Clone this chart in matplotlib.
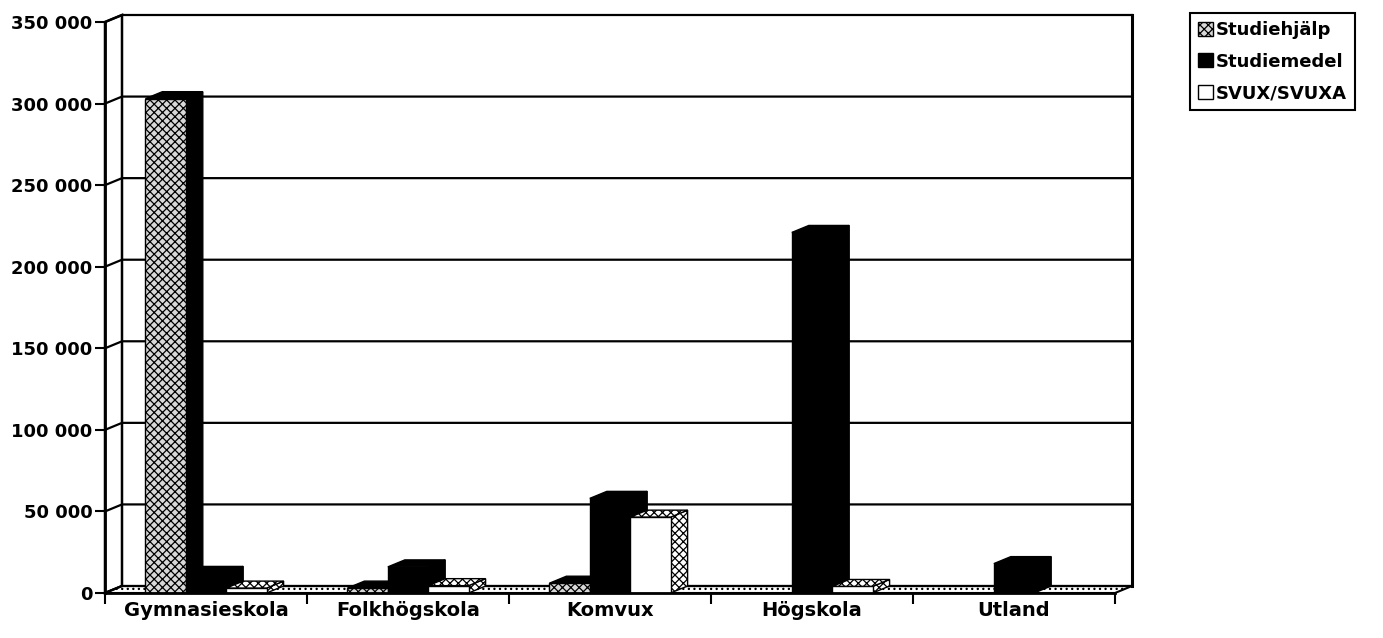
import matplotlib
matplotlib.use("Agg")
import matplotlib.pyplot as plt
from matplotlib.patches import Polygon, Patch
import numpy as np

categories = ["Gymnasieskola", "Folkhögskola", "Komvux", "Högskola", "Utland"]
series = ["Studiehjälp", "Studiemedel", "SVUX/SVUXA"]
studiehjalp = [303000, 3000, 6000, 0, 0]
studiemedel = [12000, 16000, 58000, 221000, 18000]
svux = [3000, 4500, 46500, 4000, 0]
yticks = [0, 50000, 100000, 150000, 200000, 250000, 300000, 350000]

plt.rcParams["font.family"] = ["DejaVu Sans"]
plt.rcParams["font.weight"] = "bold"
plt.rcParams["hatch.linewidth"] = 0.9

fig = plt.figure(figsize=(13.83, 6.38), dpi=100)
ax = fig.add_axes([105 / 1383, 45 / 638, 1010 / 1383, 571 / 638])
ax.set_xlim(-0.5, 4.5)
ax.set_ylim(0, 350000)

# perspective offset (depth) in data units
DX = 17 / 1010 * 5
DY = 7 / 571 * 350000
TOP = yticks[-1]

def poly(pts, **kw):
    p = Polygon(pts, closed=True, clip_on=False, **kw)
    ax.add_patch(p)
    return p

# walls and floor
poly([(-0.5, 0), (-0.5 + DX, DY), (-0.5 + DX, TOP + DY), (-0.5, TOP)],
     facecolor="white", edgecolor="black", lw=1.8, zorder=0.5)
poly([(-0.5, 0), (4.5, 0), (4.5 + DX, DY), (-0.5 + DX, DY)],
     facecolor="white", edgecolor="black", hatch="...", lw=1.5, zorder=0.6)
for v in yticks:
    ax.plot([-0.5, -0.5 + DX, 4.5 + DX], [v, v + DY, v + DY], color="black",
            lw=1.6, clip_on=False, zorder=0.7)
ax.plot([4.5 + DX, 4.5 + DX], [DY, TOP + DY], color="black", lw=2.2,
        clip_on=False, zorder=0.7)

# bars
x = np.arange(len(categories))
w = 0.2
styles = [
    dict(face="#d8d8d8", hatch="xxxx", side="black", shatch=None),
    dict(face="black", hatch=None, side="black", shatch=None),
    dict(face="white", hatch=None, side="white", shatch="xxxx"),
]
data = [studiehjalp, studiemedel, svux]
z = 1
for ci in range(len(categories)):
    for si in range(3):
        v = data[si][ci]
        if v <= 0:
            continue
        st = styles[si]
        xc = x[ci] + (si - 1) * w
        b = ax.bar(xc, v, w, facecolor=st["face"], edgecolor="black",
                   hatch=st["hatch"], lw=1.0, zorder=z + 0.2)[0]
        x0, x1, h = b.get_x(), b.get_x() + b.get_width(), b.get_height()
        poly([(x1, 0), (x1 + DX, DY), (x1 + DX, h + DY), (x1, h)],
             facecolor=st["side"], edgecolor="black", hatch=st["shatch"],
             lw=1.0, zorder=z)
        poly([(x0, h), (x0 + DX, h + DY), (x1 + DX, h + DY), (x1, h)],
             facecolor=st["side"], edgecolor="black", hatch=st["shatch"],
             lw=1.0, zorder=z + 0.1)
        z += 1

# axes styling
for s in ["top", "right", "bottom"]:
    ax.spines[s].set_visible(False)
ax.spines["left"].set_linewidth(2)
ax.spines["left"].set_zorder(50)
ax.plot([-0.5, 4.5], [0, 0], color="black", lw=2, clip_on=False, zorder=50)

ax.set_yticks(yticks)
ax.set_yticklabels([f"{v:,}".replace(",", " ") for v in yticks], fontsize=13,
                   fontweight="bold")
ax.tick_params(axis="y", direction="out", length=7, width=1.5, pad=2)

ax.set_xticks(x)
ax.set_xticklabels(categories, fontsize=14, fontweight="bold")
ax.set_xticks(np.arange(-0.5, 5, 1), minor=True)
ax.tick_params(axis="x", which="major", length=0, pad=6)
ax.tick_params(axis="x", which="minor", direction="out", length=8, width=1.5)

handles = [
    Patch(facecolor="#d8d8d8", edgecolor="black", hatch="xxxx", label=series[0]),
    Patch(facecolor="black", edgecolor="black", label=series[1]),
    Patch(facecolor="white", edgecolor="black", label=series[2]),
]
leg = fig.legend(handles=handles, loc="upper left",
                 bbox_to_anchor=(1190 / 1383, 1 - 13 / 638),
                 prop={"size": 13, "weight": "bold"}, fancybox=False,
                 framealpha=1, edgecolor="black", borderpad=0.45,
                 handlelength=0.8, handleheight=0.8, handletextpad=0.2,
                 labelspacing=0.75, borderaxespad=0)
leg.get_frame().set_linewidth(1.5)

fig.savefig("out.png", dpi=100)
